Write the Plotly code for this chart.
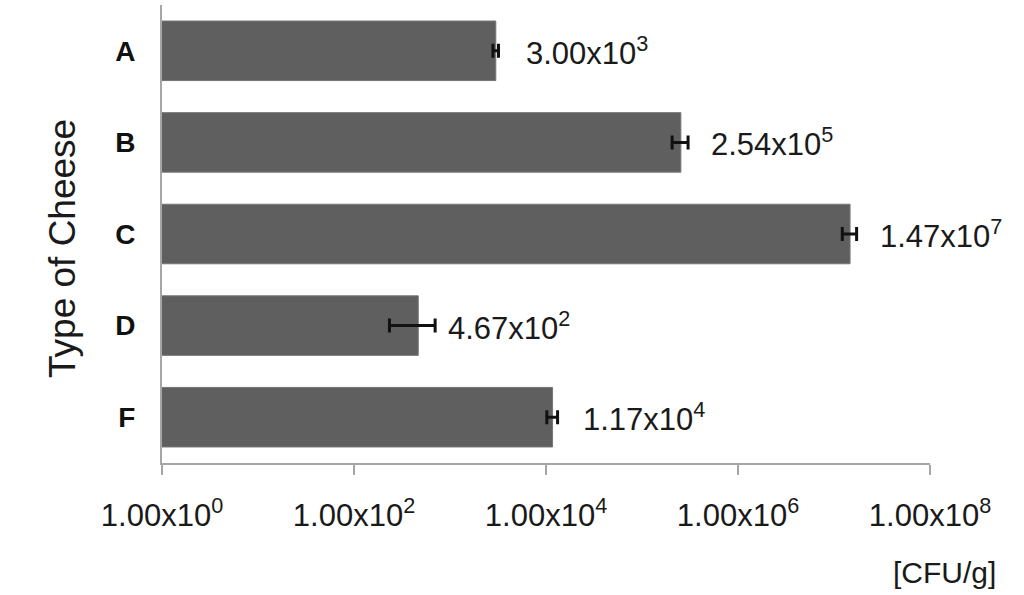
import math
import plotly.graph_objects as go

categories = ["A", "B", "C", "D", "F"]
values = [3.00e3, 2.54e5, 1.47e7, 4.67e2, 1.17e4]
errors = [2.0e2, 4.8e4, 2.5e6, 2.33e2, 1.5e3]
value_labels = ["3.00x10<sup>3</sup>", "2.54x10<sup>5</sup>", "1.47x10<sup>7</sup>",
                "4.67x10<sup>2</sup>", "1.17x10<sup>4</sup>"]
tick_values = [1e0, 1e2, 1e4, 1e6, 1e8]
tick_labels = ["1.00x10<sup>0</sup>", "1.00x10<sup>2</sup>", "1.00x10<sup>4</sup>",
               "1.00x10<sup>6</sup>", "1.00x10<sup>8</sup>"]
x_title = "[CFU/g]"
y_title = "Type of Cheese"

FONT = "Arial, Liberation Sans, sans-serif"
W, H = 1024, 595
ML, MR, MT, MB = 162, 94, 5, 132

fig = go.Figure()
fig.add_trace(go.Bar(
    x=values, y=categories, orientation="h",
    marker=dict(color="#5f5f5f", line=dict(color="#767676", width=1)),
    error_x=dict(type="data", array=errors, visible=True, color="#111111",
                 thickness=3, width=7),
    width=0.65,
    showlegend=False,
))

annotations = []
for c, v, lab in zip(categories, values, value_labels):
    annotations.append(dict(
        x=math.log10(v), y=c, xref="x", yref="y", text=lab, showarrow=False,
        xanchor="left", yanchor="middle", xshift=28,
        font=dict(family=FONT, size=31, color="#1a1a1a"),
    ))

pw = W - ML - MR
ph = H - MT - MB
annotations.append(dict(
    x=(998 - ML) / pw, y=(MT + ph - 572) / ph, xref="paper", yref="paper",
    text=x_title, showarrow=False, xanchor="right", yanchor="middle",
    font=dict(family=FONT, size=30, color="#1a1a1a"),
))
annotations.append(dict(
    x=(62 - ML) / pw, y=(MT + ph - 249) / ph, xref="paper", yref="paper",
    text=y_title, showarrow=False, textangle=-90, xanchor="center", yanchor="middle",
    font=dict(family=FONT, size=37, color="#1a1a1a"),
))

fig.update_layout(
    width=W, height=H,
    margin=dict(l=ML, r=MR, t=MT, b=MB, pad=0),
    paper_bgcolor="white", plot_bgcolor="white",
    annotations=annotations,
    xaxis=dict(
        type="log", range=[0, 8], tickvals=tick_values, ticktext=tick_labels,
        showgrid=False, zeroline=False, showline=True, linecolor="#a6a6a6", linewidth=2,
        ticks="outside", ticklen=10, tickwidth=2, tickcolor="#a6a6a6",
        ticklabelstandoff=14,
        tickfont=dict(family=FONT, size=31, color="#1a1a1a"),
    ),
    yaxis=dict(
        autorange="reversed", showgrid=False, zeroline=False,
        showline=True, linecolor="#a6a6a6", linewidth=2, ticks="",
        ticklabelstandoff=19,
        tickfont=dict(family=FONT, size=28, color="#111111", weight="bold"),
    ),
)

fig.write_html("out.html", config={"displayModeBar": False},
               post_script="document.body.style.margin='0px';")
